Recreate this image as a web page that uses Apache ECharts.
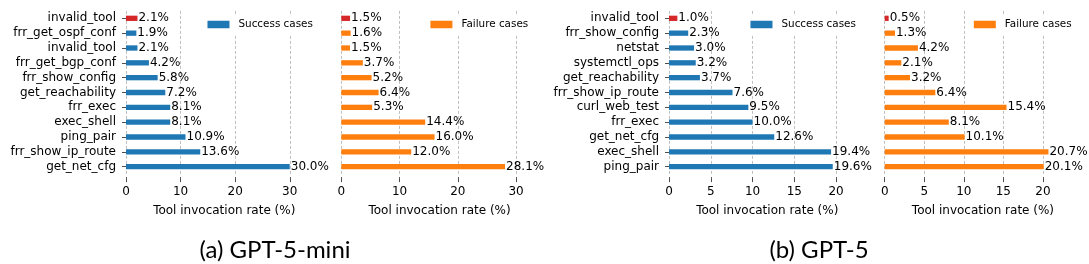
<!DOCTYPE html>
<html>
<head>
<meta charset="utf-8">
<script src="https://cdn.jsdelivr.net/npm/echarts@6/dist/echarts.min.js"></script>
<style>
html,body{margin:0;padding:0;background:#fff;}
#main{width:1089px;height:264px;}
</style>
</head>
<body>
<div id="main"></div>
<script>
// GPT-5-mini
var miniTools = ['invalid_tool','frr_get_ospf_conf','invalid_tool','frr_get_bgp_conf','frr_show_config','get_reachability','frr_exec','exec_shell','ping_pair','frr_show_ip_route','get_net_cfg'];
var miniSuccess = [2.1, 1.9, 2.1, 4.2, 5.8, 7.2, 8.1, 8.1, 10.9, 13.6, 30.0];
var miniFailure = [1.5, 1.6, 1.5, 3.7, 5.2, 6.4, 5.3, 14.4, 16.0, 12.0, 28.1];
var miniTicks = [0, 10, 20, 30];

// GPT-5
var fullTools = ['invalid_tool','frr_show_config','netstat','systemctl_ops','get_reachability','frr_show_ip_route','curl_web_test','frr_exec','get_net_cfg','exec_shell','ping_pair'];
var fullSuccess = [1.0, 2.3, 3.0, 3.2, 3.7, 7.6, 9.5, 10.0, 12.6, 19.4, 19.6];
var fullFailure = [0.5, 1.3, 4.2, 2.1, 3.2, 6.4, 15.4, 8.1, 10.1, 20.7, 20.1];
var fullTicks = [0, 5, 10, 15, 20];

var FONT = 'DejaVu Sans';
var BLUE = '#1f77b4', ORANGE = '#ff7f0e', RED = '#d62728';
var W = 1089;

// panel layout: left edge of each plot area
var panels = [
	{left:126,   tools:miniTools, values:miniSuccess, ticks:miniTicks, name:'Success cases', color:BLUE,   showCats:true},
	{left:341.3, tools:miniTools, values:miniFailure, ticks:miniTicks, name:'Failure cases', color:ORANGE, showCats:false},
	{left:669,   tools:fullTools, values:fullSuccess, ticks:fullTicks, name:'Success cases', color:BLUE,   showCats:true},
	{left:884.7, tools:fullTools, values:fullFailure, ticks:fullTicks, name:'Failure cases', color:ORANGE, showCats:false}
];
var plotW = 196.5, plotTop = 10.9, plotH = 163.2;

var grids = [], xAxes = [], yAxes = [], series = [], legends = [];

panels.forEach(function(p, i){
	grids.push({left:p.left, top:plotTop, width:plotW, height:plotH});
	var xmax = Math.max.apply(null, p.values) * 1.2;
	xAxes.push({
		type:'value', gridIndex:i, min:0, max:xmax, offset:3,
		axisLine:{show:false},
		axisTick:{show:true, length:5, customValues:p.ticks, lineStyle:{color:'#222', width:0.8}},
		axisLabel:{customValues:p.ticks, margin:9, fontFamily:FONT, fontSize:12, color:'#000'},
		splitLine:{show:false},
		name:'Tool invocation rate (%)', nameLocation:'middle', nameGap:28,
		nameTextStyle:{fontFamily:FONT, fontSize:12, color:'#000'}
	});
	yAxes.push({
		type:'category', gridIndex:i, data:p.tools, inverse:true,
		axisLine:{show:false},
		axisTick:{show:p.showCats, alignWithLabel:true, length:4, lineStyle:{color:'#222', width:0.8}},
		axisLabel:{show:p.showCats, margin:10, fontFamily:FONT, fontSize:12, color:'#000', interval:0}
	});
	// invalid_tool on top is red
	var data = p.values.map(function(v, k){
		return k === 0 ? {value:v, itemStyle:{color:RED}} : v;
	});
	series.push({
		type:'bar', name:p.name, xAxisIndex:i, yAxisIndex:i,
		color:p.color, barWidth:5.3, data:data,
		label:{show:true, position:'right', distance:1, fontFamily:FONT, fontSize:12, color:'#000',
			formatter:function(o){ return o.value.toFixed(1) + '%'; }},
		markLine:{
			silent:true, symbol:'none', z:1, animation:false,
			label:{show:false},
			lineStyle:{color:'#b0b0b0', type:[3,2], width:0.8},
			data:p.ticks.map(function(t){ return {xAxis:t}; })
		}
	});
	// upper right legend on a white box that hides the grid lines behind it
	legends.push({
		data:[p.name], right:W - (p.left + plotW) + 9.6 - 5, top:19.5 - 5, padding:5,
		backgroundColor:'#fff',
		itemWidth:22, itemHeight:7.5, icon:'rect',
		textStyle:{fontFamily:FONT, fontSize:10.4, color:'#000', padding:[0,0,0,4]}
	});
});

var chart = echarts.init(document.getElementById('main'));
chart.setOption({
	animation:false,
	backgroundColor:'#fff',
	grid:grids, xAxis:xAxes, yAxis:yAxes, series:series, legend:legends,
	graphic:[
		{type:'text', x:275, y:250, style:{text:'(a) GPT-5-mini', font:'24px Lato', fill:'#000', textAlign:'center', textVerticalAlign:'middle'}},
		{type:'text', x:819, y:250, style:{text:'(b) GPT-5', font:'24px Lato', fill:'#000', textAlign:'center', textVerticalAlign:'middle'}}
	]
});
</script>
</body>
</html>
